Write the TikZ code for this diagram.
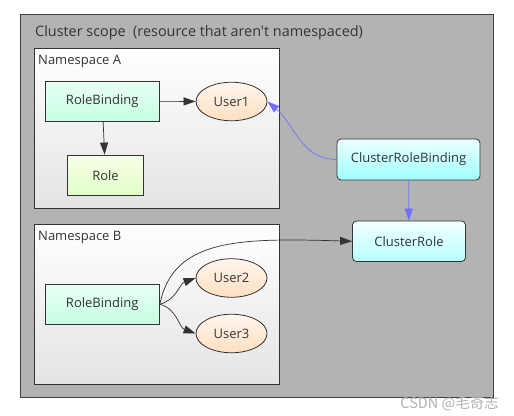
\documentclass[tikz,border=0pt]{standalone}
\usepackage{fontspec}
\newfontfamily\osans{Open Sans}
\setmainfont{Open Sans}
\newfontfamily\cjk{Noto Sans CJK SC}
\usetikzlibrary{arrows.meta,shapes.geometric}
\definecolor{txt}{HTML}{333333}
\definecolor{edge}{HTML}{333333}
\definecolor{blueln}{HTML}{7070FF}
\definecolor{clborder}{HTML}{404040}
\definecolor{HTMLe8fff4}{HTML}{E8FFF4}
\definecolor{HTMLc6ffe2}{HTML}{C6FFE2}
\definecolor{HTMLf6ffe8}{HTML}{F6FFE8}
\definecolor{HTMLe2ffc6}{HTML}{E2FFC6}
\definecolor{HTMLfff6ee}{HTML}{FFF6EE}
\definecolor{HTMLffdfc0}{HTML}{FFDFC0}
\definecolor{HTMLeaffff}{HTML}{EAFFFF}
\definecolor{HTMLa0ffff}{HTML}{A0FFFF}
\definecolor{HTMLe4e4e4}{HTML}{E4E4E4}
\definecolor{clfill}{HTML}{B3B3B3}
\tikzset{
  every node/.style={text=txt,font=\osans\fontsize{13}{15}\selectfont,inner sep=0pt},
  rbbox/.style={draw=edge,line width=0.8pt,top color=HTMLe8fff4,bottom color=HTMLc6ffe2,minimum width=114.5pt,minimum height=40.5pt},
  rolebox/.style={draw=edge,line width=0.8pt,top color=HTMLf6ffe8,bottom color=HTMLe2ffc6,minimum width=76pt,minimum height=40.5pt},
  userell/.style={ellipse,draw=edge,line width=0.8pt,top color=HTMLfff6ee,bottom color=HTMLffdfc0,minimum width=71pt,minimum height=38.5pt},
  clbox/.style={draw=edge,line width=0.8pt,rounded corners=4pt,top color=HTMLeaffff,bottom color=HTMLa0ffff},
  nsbox/.style={draw=edge,line width=0.8pt,top color=white,bottom color=HTMLe4e4e4},
  blk/.style={draw=edge,line width=0.7pt,-{Triangle[length=12pt,width=8pt]}},
  blu/.style={draw=blueln,line width=0.7pt,-{Triangle[length=12pt,width=8pt]}},
}
\begin{document}
\begin{tikzpicture}[x=1pt,y=-1pt]
\useasboundingbox[fill=white] (0,0) rectangle (514,415);
% cluster
\draw[draw=clborder,fill=clfill,line width=0.8pt] (20.5,14) rectangle (493.5,397.5);
\node[anchor=west,font=\osans\fontsize{14.4}{16}\selectfont] (title) at (35,33) {Cluster scope\ \ (resource that aren't namespaced)};
% namespaces
\draw[nsbox] (34.5,48.5) rectangle (279,208);
\node[anchor=west] (nsa) at (38,61) {Namespace A};
\draw[nsbox] (34.5,224) rectangle (279,384);
\node[anchor=west] (nsb) at (38,237) {Namespace B};
% nodes
\node[rbbox] (rba) at (102.25,101.25) {RoleBinding};
\node[userell] (u1) at (231.5,101.5) {User1};
\node[rolebox] (role) at (105.5,175.25) {Role};
\node[clbox,minimum width=143pt,minimum height=41pt] (crb) at (408.5,159.5) {ClusterRoleBinding};
\node[clbox,minimum width=113pt,minimum height=40.5pt,top color=HTMLeaffff!60!white,bottom color=HTMLa0ffff!75!white] (cr) at (409,241.25) {ClusterRole};
\node[rbbox] (rbb) at (102.25,304.25) {RoleBinding};
\node[userell] (u2) at (231.5,278) {User2};
\node[userell] (u3) at (231.5,333.5) {User3};
% edges
\draw[blk] (rba) -- (u1);
\draw[blk] (rba) -- (role);
\draw[blu] (crb) -- (cr);
\draw[blu] (crb.west) to[out=180,in=-40] (u1.east);
\draw[blk] (rbb.east) to[out=15,in=200] (u2.west);
\draw[blk] (rbb.east) to[out=-15,in=160] (u3.west);
\draw[blk] (rbb.east) .. controls (173,238) and (240,238) .. (cr.west);
% watermark
\node[anchor=east,text=black!30,font=\cjk\fontsize{14.5}{16}\selectfont] (wm) at (499,404) {CSDN @毛奇志};
\end{tikzpicture}
\end{document}
